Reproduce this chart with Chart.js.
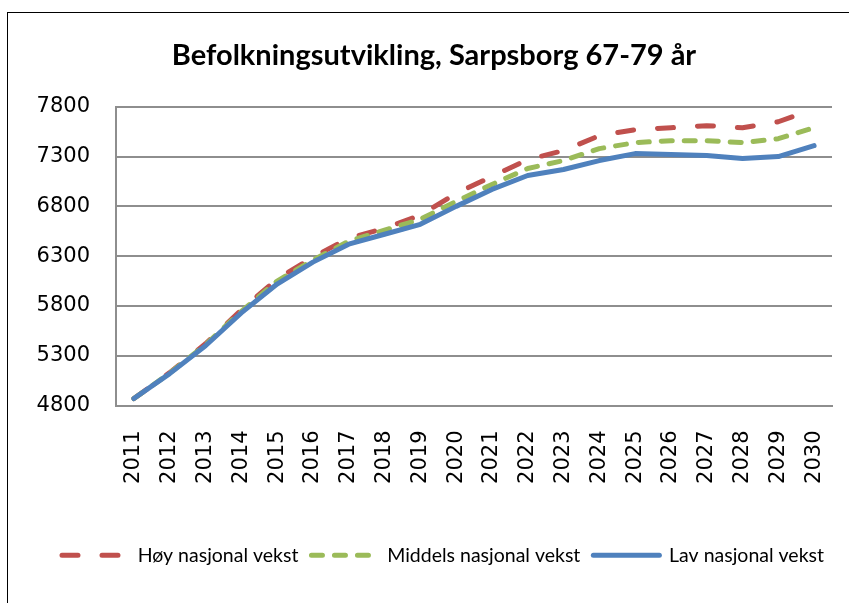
<!DOCTYPE html>
<html>
<head>
<meta charset="utf-8">
<script src="https://cdn.jsdelivr.net/npm/chart.js@4"></script>
<style>
  html, body { margin: 0; padding: 0; background: #fff; overflow: hidden; }
  #wrap { position: absolute; left: 0; top: 0; width: 849px; height: 603px; }
  #frame { position: absolute; left: 7px; top: 12px; width: 900px; height: 700px; border-left: 1px solid #000; border-top: 1px solid #000; }
</style>
</head>
<body>
<div id="frame"></div>
<div id="wrap"><canvas id="chart" width="849" height="603"></canvas></div>
<script>
// data
const years = ['2011', '2012', '2013', '2014', '2015', '2016', '2017', '2018', '2019', '2020',
               '2021', '2022', '2023', '2024', '2025', '2026', '2027', '2028', '2029', '2030'];
const hoy     = [4870, 5130, 5420, 5760, 6070, 6290, 6480, 6580, 6710, 6930, 7100, 7270, 7360, 7510, 7570, 7590, 7610, 7590, 7650, 7780];
const middels = [4870, 5125, 5410, 5745, 6050, 6260, 6450, 6560, 6670, 6850, 7020, 7180, 7260, 7380, 7440, 7460, 7460, 7440, 7480, 7590];
const lav     = [4870, 5120, 5400, 5730, 6020, 6240, 6420, 6520, 6620, 6800, 6970, 7110, 7170, 7260, 7330, 7320, 7310, 7280, 7300, 7410];
const seriesNames = ['Høy nasjonal vekst', 'Middels nasjonal vekst', 'Lav nasjonal vekst'];
const yMin = 4800, yMax = 7800, yStep = 500;

// legend sits a bit right of centre in the original
const legendShift = {
  id: 'legendShift',
  afterLayout(c) {
    c.legend.left += 9;
    c.legend.right += 9;
  }
};

const ctx = document.getElementById('chart').getContext('2d');
const chart = new Chart(ctx, {
  type: 'line',
  data: {
    labels: years,
    datasets: [
      { label: seriesNames[0], data: hoy, borderColor: '#C0504D', borderWidth: 5, borderDash: [16, 24],
        borderCapStyle: 'round', order: 2 },
      { label: seriesNames[1], data: middels, borderColor: '#9BBB59', borderWidth: 5, borderDash: [11, 12],
        borderCapStyle: 'round', order: 1 },
      { label: seriesNames[2], data: lav, borderColor: '#4F81BD', borderWidth: 5, borderDash: [],
        borderCapStyle: 'round', order: 0 }
    ]
  },
  options: {
    responsive: false,
    animation: false,
    layout: { padding: { left: 36, right: 17, top: 0, bottom: 28 } },
    elements: {
      point: { radius: 0 },
      line: { tension: 0, borderJoinStyle: 'round', fill: false }
    },
    scales: {
      x: {
        offset: true,
        grid: { display: false, drawTicks: false, offset: true },
        border: { display: true, color: '#8e8e8e', width: 2 },
        ticks: { color: '#000', font: { family: 'DejaVu Sans', size: 21 }, minRotation: 90, maxRotation: 90, padding: 25, autoSkip: false },
        afterFit: s => { s.height = 127; s.paddingLeft = 0; s.paddingRight = 0; }
      },
      y: {
        min: yMin, max: yMax,
        grid: { color: '#8e8e8e', lineWidth: 2, drawTicks: false },
        border: { display: true, color: '#8e8e8e', width: 2 },
        ticks: { stepSize: yStep, color: '#000', font: { family: 'DejaVu Sans', size: 21 }, padding: 26,
                 callback: v => String(v) },
        afterFit: s => { s.width = 80; }
      }
    },
    plugins: {
      title: {
        display: true,
        text: 'Befolkningsutvikling, Sarpsborg 67-79 år',
        color: '#000',
        font: { family: 'Lato', size: 29, weight: 'bold' },
        padding: { top: 38, bottom: 34 }
      },
      legend: {
        position: 'bottom',
        labels: {
          usePointStyle: true,
          pointStyleWidth: 66,
          padding: 13,
          color: '#000',
          font: { family: 'Lato', size: 19.5 },
          generateLabels: c => c.data.datasets.map((ds, i) => ({
            text: ds.label,
            datasetIndex: i,
            pointStyle: 'line',
            strokeStyle: ds.borderColor,
            fillStyle: ds.borderColor,
            lineWidth: 5,
            lineDash: ds.borderDash,
            lineCap: 'round',
            fontColor: '#000',
            hidden: false
          }))
        }
      },
      tooltip: { enabled: false }
    }
  },
  plugins: [legendShift]
});
</script>
</body>
</html>
